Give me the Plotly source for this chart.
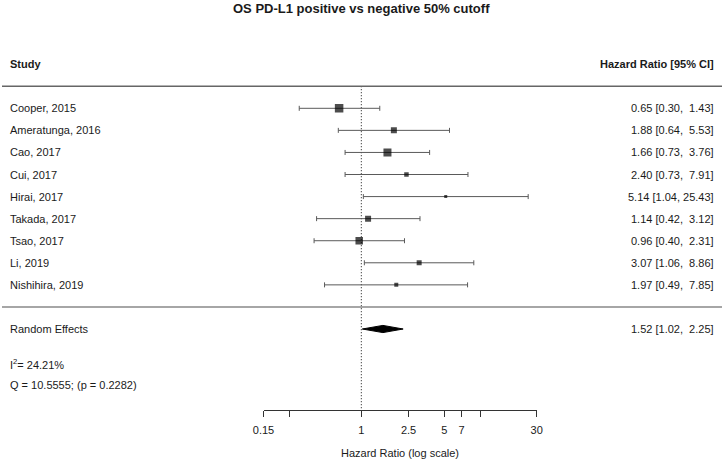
import plotly.graph_objects as go
import math

# ---------------- data ----------------
studies = ["Cooper, 2015", "Ameratunga, 2016", "Cao, 2017", "Cui, 2017", "Hirai, 2017",
           "Takada, 2017", "Tsao, 2017", "Li, 2019", "Nishihira, 2019"]
hr = [0.65, 1.88, 1.66, 2.40, 5.14, 1.14, 0.96, 3.07, 1.97]
ci_low = [0.30, 0.64, 0.73, 0.73, 1.04, 0.42, 0.40, 1.06, 0.49]
ci_high = [1.43, 5.53, 3.76, 7.91, 25.43, 3.12, 2.31, 8.86, 7.85]

re_label = "Random Effects"
re_hr = 1.52
re_low = 1.02
re_high = 2.25

i2_text = "I<sup>2</sup>= 24.21%"
q_text = "Q = 10.5555; (p = 0.2282)"

tick_vals = [0.15, 1, 2.5, 5, 7, 30]
tick_text = ["0.15", "1", "2.5", "5", "7", "30"]
unlabeled_ticks = [0.25, 10]

title = "OS PD-L1 positive vs negative 50% cutoff"
col_left = "Study"
col_right = "Hazard Ratio [95% CI]"
x_title = "Hazard Ratio (log scale)"

# ---------------- style / layout ----------------
W, H = 725, 461
box_px = [8.5, 6, 8, 4.5, 3, 6, 7.5, 5, 4]   # square sizes (study weights)
FONT = "Arial, Liberation Sans, sans-serif"
TXT = "#1a1a1a"
GREY = "#5a5a5a"

row_px = 22.07
first_row_px = 108.3
axis_px = 409.5
x_left_px, x_right_px = 263.5, 536.7


def row_of(px):
    return (px - first_row_px) / row_px


n = len(studies)
rows = list(range(n))
sep_row = n            # separator under the studies
re_row = n + 1
header_row = -2
top_line_row = -1
axis_row = row_of(axis_px)


def fmt(v):
    s = f"{v:.2f}"
    return "\u00a0" * (5 - len(s)) + s


def ci_text(h, l, u):
    return f"{h:.2f} [{l:.2f}, {fmt(u)}]"


fig = go.Figure()

# reference line at HR = 1
fig.add_trace(go.Scatter(x=[1, 1], y=[top_line_row, axis_row], mode="lines",
                         line=dict(color="#111", width=1, dash="1px,2px"),
                         hoverinfo="skip", showlegend=False))

# study estimates with CIs
fig.add_trace(go.Scatter(
    x=hr, y=rows, mode="markers",
    marker=dict(symbol="square", size=box_px, color="black", line=dict(width=0)),
    error_x=dict(type="data", symmetric=False,
                 array=[u - h for h, u in zip(hr, ci_high)],
                 arrayminus=[h - l for h, l in zip(hr, ci_low)],
                 color=GREY, thickness=1, width=2.5),
    showlegend=False, hoverinfo="skip"))

# random-effects diamond
half_h = 3.6 / row_px
fig.add_trace(go.Scatter(
    x=[re_low, re_hr, re_high, re_hr, re_low],
    y=[re_row, re_row - half_h, re_row, re_row + half_h, re_row],
    mode="lines", fill="toself", fillcolor="black",
    line=dict(color="black", width=1), showlegend=False, hoverinfo="skip"))

annotations = []


def add_text(text, xp, row, anchor, size=11, bold=False):
    annotations.append(dict(
        text=f"<b>{text}</b>" if bold else text,
        x=xp, xref="paper", y=row, yref="y", xanchor=anchor, yanchor="middle",
        showarrow=False, font=dict(family=FONT, size=size, color=TXT)))


LX = 8 / W
RX = 716 / W
add_text(col_left, LX, header_row, "left", bold=True)
add_text(col_right, RX, header_row, "right", bold=True)
for i, s in enumerate(studies):
    add_text(s, LX, rows[i], "left")
    add_text(ci_text(hr[i], ci_low[i], ci_high[i]), RX, rows[i], "right")
add_text(re_label, LX, re_row, "left")
add_text(ci_text(re_hr, re_low, re_high), RX, re_row, "right")
add_text(i2_text, LX, row_of(364), "left")
add_text(q_text, LX, row_of(384.7), "left")

# title and axis title
annotations.append(dict(text=f"<b>{title}</b>", x=361 / W, xref="paper", y=row_of(8.5), yref="y",
                        xanchor="center", yanchor="middle", showarrow=False,
                        font=dict(family=FONT, size=13, color=TXT)))
annotations.append(dict(text=x_title, x=(x_left_px + x_right_px) / 2 / W, xref="paper",
                        y=row_of(453), yref="y", xanchor="center", yanchor="middle",
                        showarrow=False, font=dict(family=FONT, size=11, color=TXT)))

shapes = [
    dict(type="line", xref="paper", yref="y", x0=2 / W, x1=722 / W, y0=top_line_row, y1=top_line_row,
         line=dict(color="#666", width=1.3)),
    dict(type="line", xref="paper", yref="y", x0=2 / W, x1=722 / W, y0=sep_row, y1=sep_row,
         line=dict(color="#888", width=1.5)),
]

fig.update_layout(
    width=W, height=H,
    margin=dict(l=0, r=0, t=0, b=0, pad=0),
    paper_bgcolor="white", plot_bgcolor="white",
    annotations=annotations, shapes=shapes,
    xaxis=dict(type="log", domain=[x_left_px / W, x_right_px / W],
               range=[math.log10(0.15), math.log10(30)],
               anchor="free", position=1 - axis_px / H,
               showline=True, linecolor="#333", linewidth=1,
               ticks="outside", ticklen=6, tickcolor="#333", tickwidth=1,
               tickmode="array", tickvals=tick_vals, ticktext=tick_text,
               ticklabelstandoff=4,
               minor=dict(tickmode="array", tickvals=unlabeled_ticks, ticks="outside",
                          ticklen=6, tickcolor="#333", tickwidth=1, showgrid=False),
               tickfont=dict(family=FONT, size=11, color=TXT),
               showgrid=False, zeroline=False, automargin=False, fixedrange=True),
    yaxis=dict(range=[row_of(H), row_of(0)], domain=[0, 1], visible=False,
               showgrid=False, zeroline=False, automargin=False, fixedrange=True),
    showlegend=False,
)

fig.write_html("out.html",
               config={"displayModeBar": False, "staticPlot": True},
               post_script="document.body.style.margin='0';document.body.style.overflow='hidden';")
